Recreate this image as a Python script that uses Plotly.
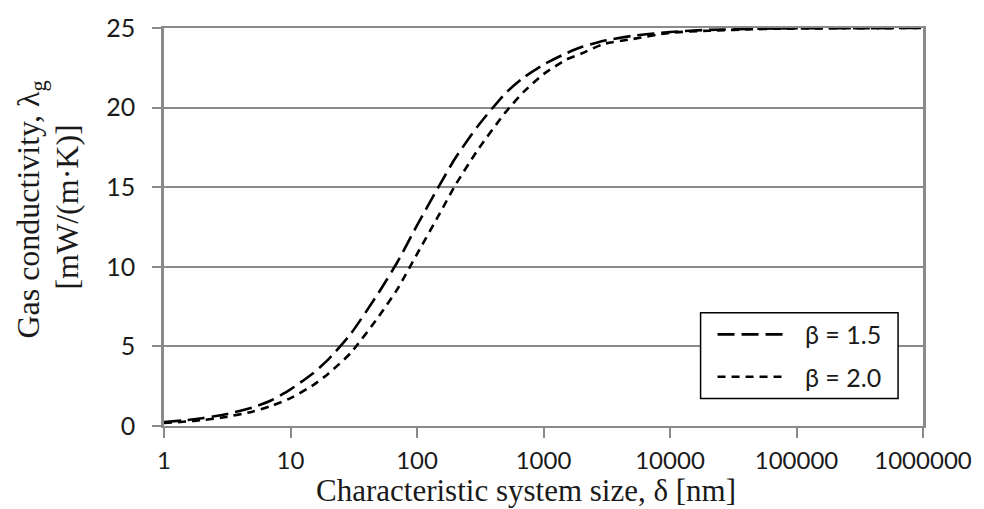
import plotly.graph_objects as go

# Characteristic system size (nm)
size_nm = [1, 1.5, 2, 3, 5, 7, 10, 15, 20, 30, 50, 70, 100, 150, 200, 300, 500, 700,
           1000, 1500, 2000, 3000, 5000, 10000, 20000, 50000, 100000, 1000000]

# Gas conductivity (mW/(m·K)) for each beta
cond_beta_15 = [0.25, 0.37, 0.49, 0.72, 1.16, 1.6, 2.3, 3.3, 4.2, 5.8, 8.4, 10.3, 12.6,
                15.1, 16.8, 18.8, 20.9, 21.9, 22.7, 23.4, 23.8, 24.2, 24.5, 24.75,
                24.88, 24.95, 24.98, 25.0]
cond_beta_20 = [0.19, 0.28, 0.37, 0.55, 0.9, 1.25, 1.75, 2.55, 3.3, 4.6, 6.9, 8.6, 10.8,
                13.3, 15.1, 17.3, 19.7, 21.0, 22.1, 23.0, 23.4, 24.0, 24.3, 24.7,
                24.83, 24.93, 24.97, 25.0]

series_names = ["β = 1.5", "β = 2.0"]
x_tick_vals = [1, 10, 100, 1000, 10000, 100000, 1000000]
x_tick_text = ["1", "10", "100", "1000", "10000", "100000", "1000000"]
y_tick_vals = [0, 5, 10, 15, 20, 25]

W, H = 984, 509
ML, MR, MT, MB = 164, 59, 22, 83
PW, PH = W - ML - MR, H - MT - MB

def px_x(p):
    return (p - ML) / PW

def px_y(p):
    return (H - MB - p) / PH

dashes = ["17px,7px", "8px,6px"]
axis_grey = "#8a8a8a"
tick_font = dict(family="Lato, 'Open Sans', sans-serif", size=25, color="#1a1a1a")
title_font = dict(family="'Liberation Serif', 'DejaVu Serif', serif", size=32, color="#1a1a1a")

fig = go.Figure()
for name, ys, dash in zip(series_names, [cond_beta_15, cond_beta_20], dashes):
    fig.add_trace(go.Scatter(
        x=size_nm, y=ys, name=name, mode="lines",
        line=dict(color="black", width=2.6, dash=dash, shape="spline", smoothing=0.6),
        showlegend=False,
    ))

fig.update_layout(
    width=W, height=H,
    margin=dict(l=ML, r=MR, t=MT, b=MB),
    paper_bgcolor="white", plot_bgcolor="white",
    xaxis=dict(
        type="log", range=[0, 6],
        tickvals=x_tick_vals, ticktext=x_tick_text,
        showgrid=False, zeroline=False,
        showline=True, linecolor=axis_grey, linewidth=2, mirror=True,
        ticks="outside", ticklen=10, tickwidth=2, tickcolor=axis_grey,
        tickfont=dict(tick_font, size=24), ticklabelstandoff=2,
    ),
    yaxis=dict(
        range=[0, 25], tickvals=y_tick_vals,
        showgrid=True, gridcolor=axis_grey, gridwidth=2, zeroline=False,
        showline=True, linecolor=axis_grey, linewidth=2.5, mirror=True,
        ticks="outside", ticklen=9, tickwidth=2, tickcolor=axis_grey,
        tickfont=tick_font, ticklabelstandoff=12,
    ),
)

# Axis titles
fig.add_annotation(
    text="Characteristic system size, δ [nm]", xref="paper", yref="paper",
    x=px_x(527), y=px_y(491), xanchor="center", yanchor="middle",
    showarrow=False, font=dict(title_font, size=31),
)
fig.add_annotation(
    text="Gas conductivity, λ<sub>g</sub>", xref="paper", yref="paper",
    x=px_x(30), y=px_y(206), xanchor="center", yanchor="middle", textangle=-90,
    showarrow=False, font=title_font,
)
fig.add_annotation(
    text="[mW/(m·K)]", xref="paper", yref="paper",
    x=px_x(67), y=px_y(204), xanchor="center", yanchor="middle", textangle=-90,
    showarrow=False, font=title_font,
)

# Boxed legend
fig.add_shape(type="rect", xref="paper", yref="paper",
              x0=px_x(702), x1=px_x(900), y0=px_y(398), y1=px_y(311),
              line=dict(color="black", width=1.5), fillcolor="white", layer="above")
for i, (name, dash) in enumerate(zip(series_names, dashes)):
    yy = [333, 376][i]
    fig.add_shape(type="line", xref="paper", yref="paper",
                  x0=px_x(719), x1=px_x(789), y0=px_y(yy), y1=px_y(yy),
                  line=dict(color="black", width=2.6, dash=dash), layer="above")
    fig.add_annotation(text=name, xref="paper", yref="paper",
                       x=px_x(805), y=px_y(yy), xanchor="left", yanchor="middle",
                       showarrow=False, font=tick_font)

fig.write_html("out.html")
